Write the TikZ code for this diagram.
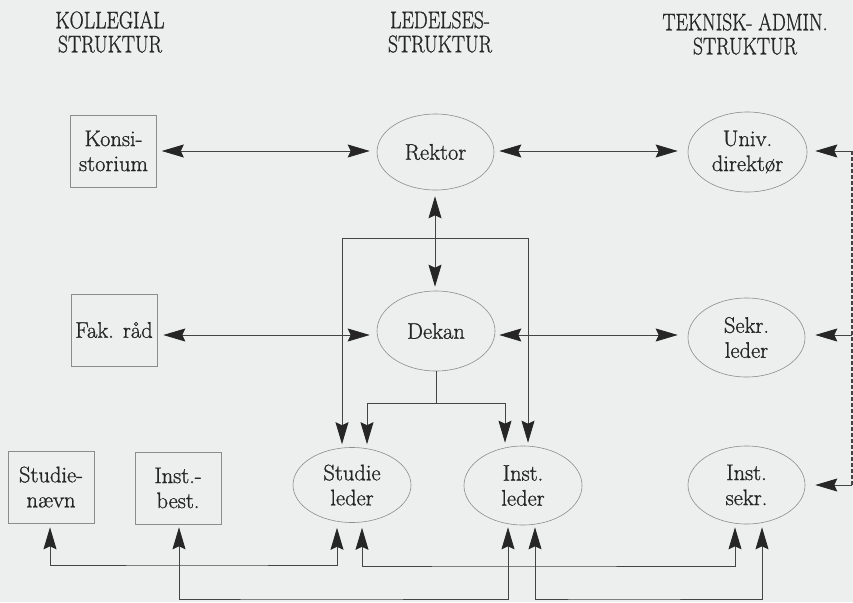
\documentclass[tikz,border=0pt]{standalone}
\usepackage{fontspec}
\setmainfont{Latin Modern Roman}[FakeBold=1]
\usetikzlibrary{arrows.meta,shapes.geometric,calc}
\definecolor{bg}{HTML}{EDEFEE}
\definecolor{ink}{HTML}{262626}
\definecolor{wire}{HTML}{444444}
\definecolor{frame}{HTML}{8C8C8C}
\begin{document}
\begin{tikzpicture}[x=1pt,y=-1pt,
  heading/.style={align=center,font=\fontsize{24}{24}\selectfont,text=ink,inner sep=0pt},
  boxnode/.style={draw=frame,line width=0.6pt,rectangle,minimum width=86pt,minimum height=72pt,inner sep=0pt,align=center,font=\fontsize{22.5}{25}\selectfont,text=ink},
  ovalnode/.style={draw=frame,line width=0.6pt,ellipse,inner sep=0pt,align=center,font=\fontsize{22.5}{25}\selectfont,text=ink},
  wireline/.style={draw=wire,line width=0.8pt},
  >={Stealth[length=22pt,width=13pt,inset=3pt,color=ink]},
  dashline/.style={draw=wire,line width=1.3pt,dash pattern=on 4pt off 2pt}]
\fill[bg] (0,0) rectangle (853,602);
\useasboundingbox (0,0) rectangle (853,602);

% headings
\node[heading] (hk) at (110,32) {\scalebox{0.82}[1]{KOLLEGIAL}\\\scalebox{0.82}[1]{STRUKTUR}};
\node[heading] (hl) at (440,32) {\scalebox{0.82}[1]{LEDELSES-}\\\scalebox{0.82}[1]{STRUKTUR}};
\node[heading] (ht) at (745,34) {\scalebox{0.82}[1]{TEKNISK- ADMIN.}\\\scalebox{0.82}[1]{STRUKTUR}};

% collegial boxes
\node[boxnode] (kons) at (113.5,151) {Konsi-\\storium};
\node[boxnode] (fak) at (114,330) {Fak. r\aa d};
\node[boxnode] (stn) at (51,487) {Studie-\\n\ae vn};
\node[boxnode] (ibest) at (178,488) {Inst.-\\best.};

% ellipses
\node[ovalnode,minimum width=117pt,minimum height=76pt] (rektor) at (435.5,152) {Rektor};
\node[ovalnode,minimum width=119pt,minimum height=80pt] (univ) at (747.5,152) {Univ.\\direkt\o r};
\node[ovalnode,minimum width=118pt,minimum height=80pt] (dekan) at (436,331) {Dekan};
\node[ovalnode,minimum width=117pt,minimum height=79pt] (sekr) at (746.5,337.5) {Sekr.\\leder};
\node[ovalnode,minimum width=118pt,minimum height=75pt] (stl) at (352,485) {Studie\\leder};
\node[ovalnode,minimum width=118pt,minimum height=79pt] (instl) at (523,485.5) {Inst.\\leder};
\node[ovalnode,minimum width=117pt,minimum height=78pt] (insts) at (746.5,485) {Inst.\\sekr.};

% horizontal double arrows
\draw[wireline,<->] ([xshift=5pt]kons.east) -- ([xshift=-7pt,yshift=1pt]rektor.west);
\draw[wireline,<->] ([xshift=5pt,yshift=1pt]rektor.east) -- ([xshift=-10pt,yshift=1pt]univ.west);
\draw[wireline,<->] ([xshift=6pt,yshift=-5pt]fak.east) -- ([xshift=-7pt,yshift=-4pt]dekan.west);
\draw[wireline,<->] ([xshift=4pt,yshift=-4pt]dekan.east) -- ([xshift=-10pt,yshift=2.5pt]sekr.west);

% rektor - dekan
\draw[wireline,<->] ([xshift=-0.5pt,yshift=-6pt]rektor.south) -- ([xshift=-1pt,yshift=4pt]dekan.north);
\coordinate (rl) at (435,238);
\draw[wireline,->] (rl) -| ([xshift=-10pt,yshift=3pt]stl.north);
\draw[wireline,->] (rl) -| ([xshift=5pt,yshift=3pt]instl.north);

% dekan down
\coordinate (dj) at (436,403);
\draw[wireline] (dekan.south) -- (dj);
\draw[wireline,->] (dj) -| ([xshift=15pt,yshift=3pt]stl.north);
\draw[wireline,->] (dj) -| ([xshift=-18pt,yshift=3pt]instl.north);

% bottom connections
\draw[wireline,<->] ([xshift=-1pt,yshift=-4pt]stn.south) |- (200,565) -| ([xshift=-15pt,yshift=-5pt]stl.south);
\draw[wireline,<->] ([xshift=1pt,yshift=-3pt]ibest.south) |- (300,599) -| ([xshift=-15pt,yshift=-2pt]instl.south);
\draw[wireline,<->] ([xshift=10pt,yshift=-5pt]stl.south) |- (500,566) -| ([xshift=-11.5pt,yshift=-3pt]insts.south);
\draw[wireline,<->] ([xshift=12pt,yshift=-2pt]instl.south) |- (600,599) -| ([xshift=15.5pt,yshift=-3pt]insts.south);

% dashed right side
\coordinate (dtop) at (852,151);
\coordinate (dmid) at (852,335);
\coordinate (dbot) at (852,485);
\draw[dashline] (dtop) -- (dbot);
\draw[wireline,->] (dtop) -- ([xshift=8pt,yshift=1pt]univ.east);
\draw[wireline,->] (dmid) -- ([xshift=10pt,yshift=2.5pt]sekr.east);
\draw[wireline,->] (dbot) -- ([xshift=10pt]insts.east);
\end{tikzpicture}
\end{document}
